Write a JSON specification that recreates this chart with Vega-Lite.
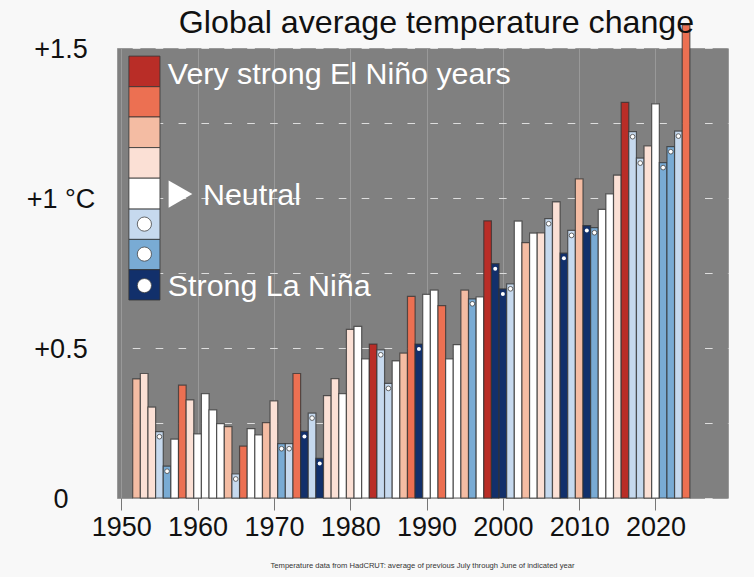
{"$schema":"https://vega.github.io/schema/vega-lite/v6.json","width":611,"height":450,"autosize":"none","padding":{"left":117,"top":48,"right":26,"bottom":79},"background":"#f8f8f8","view":{"fill":"#808080","stroke":"#999999"},"title":{"text":"Global average temperature change","font":"Liberation Sans","fontSize":32.2,"fontWeight":"normal","color":"#111111","anchor":"middle","frame":"group","dx":14,"dy":56,"offset":15,"baseline":"alphabetic"},"config":{"font":"Liberation Sans"},"datasets":{"years":[{"year":1952,"anomaly":0.397,"enso":"moderate El Niño"},{"year":1953,"anomaly":0.415,"enso":"weak El Niño"},{"year":1954,"anomaly":0.303,"enso":"weak El Niño"},{"year":1955,"anomaly":0.221,"enso":"weak La Niña"},{"year":1956,"anomaly":0.106,"enso":"moderate La Niña"},{"year":1957,"anomaly":0.196,"enso":"neutral"},{"year":1958,"anomaly":0.376,"enso":"strong El Niño"},{"year":1959,"anomaly":0.327,"enso":"weak El Niño"},{"year":1960,"anomaly":0.214,"enso":"neutral"},{"year":1961,"anomaly":0.348,"enso":"neutral"},{"year":1962,"anomaly":0.294,"enso":"neutral"},{"year":1963,"anomaly":0.248,"enso":"neutral"},{"year":1964,"anomaly":0.238,"enso":"moderate El Niño"},{"year":1965,"anomaly":0.08,"enso":"weak La Niña"},{"year":1966,"anomaly":0.173,"enso":"strong El Niño"},{"year":1967,"anomaly":0.231,"enso":"neutral"},{"year":1968,"anomaly":0.21,"enso":"neutral"},{"year":1969,"anomaly":0.251,"enso":"moderate El Niño"},{"year":1970,"anomaly":0.324,"enso":"weak El Niño"},{"year":1971,"anomaly":0.181,"enso":"moderate La Niña"},{"year":1972,"anomaly":0.181,"enso":"weak La Niña"},{"year":1973,"anomaly":0.415,"enso":"strong El Niño"},{"year":1974,"anomaly":0.222,"enso":"strong La Niña"},{"year":1975,"anomaly":0.283,"enso":"weak La Niña"},{"year":1976,"anomaly":0.132,"enso":"strong La Niña"},{"year":1977,"anomaly":0.341,"enso":"weak El Niño"},{"year":1978,"anomaly":0.398,"enso":"weak El Niño"},{"year":1979,"anomaly":0.348,"enso":"neutral"},{"year":1980,"anomaly":0.562,"enso":"weak El Niño"},{"year":1981,"anomaly":0.572,"enso":"neutral"},{"year":1982,"anomaly":0.464,"enso":"neutral"},{"year":1983,"anomaly":0.513,"enso":"very strong El Niño"},{"year":1984,"anomaly":0.494,"enso":"weak La Niña"},{"year":1985,"anomaly":0.382,"enso":"weak La Niña"},{"year":1986,"anomaly":0.457,"enso":"neutral"},{"year":1987,"anomaly":0.483,"enso":"moderate El Niño"},{"year":1988,"anomaly":0.672,"enso":"strong El Niño"},{"year":1989,"anomaly":0.513,"enso":"strong La Niña"},{"year":1990,"anomaly":0.679,"enso":"neutral"},{"year":1991,"anomaly":0.693,"enso":"neutral"},{"year":1992,"anomaly":0.641,"enso":"strong El Niño"},{"year":1993,"anomaly":0.464,"enso":"neutral"},{"year":1994,"anomaly":0.511,"enso":"neutral"},{"year":1995,"anomaly":0.693,"enso":"moderate El Niño"},{"year":1996,"anomaly":0.664,"enso":"moderate La Niña"},{"year":1997,"anomaly":0.67,"enso":"neutral"},{"year":1998,"anomaly":0.924,"enso":"very strong El Niño"},{"year":1999,"anomaly":0.781,"enso":"strong La Niña"},{"year":2000,"anomaly":0.697,"enso":"strong La Niña"},{"year":2001,"anomaly":0.714,"enso":"weak La Niña"},{"year":2002,"anomaly":0.923,"enso":"neutral"},{"year":2003,"anomaly":0.851,"enso":"moderate El Niño"},{"year":2004,"anomaly":0.883,"enso":"neutral"},{"year":2005,"anomaly":0.884,"enso":"weak El Niño"},{"year":2006,"anomaly":0.931,"enso":"weak La Niña"},{"year":2007,"anomaly":0.987,"enso":"weak El Niño"},{"year":2008,"anomaly":0.816,"enso":"strong La Niña"},{"year":2009,"anomaly":0.892,"enso":"weak La Niña"},{"year":2010,"anomaly":1.064,"enso":"moderate El Niño"},{"year":2011,"anomaly":0.908,"enso":"strong La Niña"},{"year":2012,"anomaly":0.901,"enso":"moderate La Niña"},{"year":2013,"anomaly":0.962,"enso":"neutral"},{"year":2014,"anomaly":1.014,"enso":"neutral"},{"year":2015,"anomaly":1.076,"enso":"weak El Niño"},{"year":2016,"anomaly":1.319,"enso":"very strong El Niño"},{"year":2017,"anomaly":1.221,"enso":"weak La Niña"},{"year":2018,"anomaly":1.133,"enso":"weak La Niña"},{"year":2019,"anomaly":1.174,"enso":"weak El Niño"},{"year":2020,"anomaly":1.314,"enso":"neutral"},{"year":2021,"anomaly":1.118,"enso":"moderate La Niña"},{"year":2022,"anomaly":1.171,"enso":"moderate La Niña"},{"year":2023,"anomaly":1.223,"enso":"weak La Niña"},{"year":2024,"anomaly":1.577,"enso":"strong El Niño"}],"key":[{"enso":"very strong El Niño","top":1.473,"bottom":1.371},{"enso":"strong El Niño","top":1.371,"bottom":1.27},{"enso":"moderate El Niño","top":1.27,"bottom":1.168},{"enso":"weak El Niño","top":1.168,"bottom":1.066},{"enso":"neutral","top":1.066,"bottom":0.963},{"enso":"weak La Niña","top":0.963,"bottom":0.862},{"enso":"moderate La Niña","top":0.862,"bottom":0.761},{"enso":"strong La Niña","top":0.761,"bottom":0.66}],"keyDots":[{"enso":"weak La Niña","level":0.913},{"enso":"moderate La Niña","level":0.813},{"enso":"strong La Niña","level":0.708}],"notes":[{"label":"Very strong El Niño years","year":1956.1,"level":1.38},{"label":"Neutral","year":1960.7,"level":0.977},{"label":"Strong La Niña","year":1956.1,"level":0.673}]},"layer":[{"data":{"name":"years"},"mark":{"type":"bar","size":7.63,"stroke":"#333333","strokeOpacity":0.75,"strokeWidth":1.2},"encoding":{"x":{"field":"year","type":"quantitative","scale":{"domain":[1949.44,2029.5],"nice":false,"zero":false,"padding":0},"axis":{"values":[1950,1960,1970,1980,1990,2000,2010,2020],"format":"d","grid":true,"gridColor":"#999999","gridWidth":1,"domain":false,"ticks":true,"tickColor":"#777777","tickSize":12,"labelFontSize":27,"labelColor":"#111111","labelPadding":4,"labelFlush":false,"labelOverlap":false,"title":"Temperature data from HadCRUT: average of previous July through June of indicated year","titleFontSize":7.6,"titleFontWeight":"normal","titleColor":"#333333","titleY":63,"titleX":305}},"y":{"field":"anomaly","type":"quantitative","scale":{"domain":[0,1.5],"nice":false},"axis":{"values":[0,0.25,0.5,0.75,1,1.25,1.5],"labelExpr":"datum.value==0?'0':datum.value==0.5?'+0.5':datum.value==1?'+1 °C':datum.value==1.5?'+1.5':''","grid":true,"gridColor":"#dddddd","gridWidth":1,"gridDash":[7.63,15.26],"gridDashOffset":7.63,"domain":false,"ticks":false,"labelAlign":"center","labelBaseline":"middle","labelFontSize":27,"labelColor":"#111111","labelPadding":56.5,"labelOverlap":false,"labelOffset":1,"title":null}},"color":{"field":"enso","type":"nominal","legend":null,"scale":{"domain":["very strong El Niño","strong El Niño","moderate El Niño","weak El Niño","neutral","weak La Niña","moderate La Niña","strong La Niña"],"range":["#b92d27","#ec7052","#f4bca3","#fbe0d5","#ffffff","#c6d9ee","#79abd4","#12306b"]}}}},{"data":{"name":"years"},"transform":[{"filter":"indexof(['weak La Niña','moderate La Niña'],datum.enso)>=0"}],"mark":{"type":"point","filled":true,"fill":"#ffffff","stroke":"#444444","strokeWidth":0.8,"size":22,"opacity":1,"yOffset":5},"encoding":{"x":{"field":"year","type":"quantitative"},"y":{"field":"anomaly","type":"quantitative"}}},{"data":{"name":"years"},"transform":[{"filter":"datum.enso=='strong La Niña'"}],"mark":{"type":"point","filled":true,"fill":"#ffffff","size":16,"opacity":1,"yOffset":5},"encoding":{"x":{"field":"year","type":"quantitative"},"y":{"field":"anomaly","type":"quantitative"}}},{"data":{"name":"key"},"mark":{"type":"rect","stroke":"#333333","strokeOpacity":0.8,"strokeWidth":1},"encoding":{"x":{"datum":1951},"x2":{"datum":1955.07},"y":{"field":"top","type":"quantitative"},"y2":{"field":"bottom"},"color":{"field":"enso","type":"nominal"}}},{"data":{"name":"keyDots"},"mark":{"type":"point","filled":true,"fill":"#ffffff","stroke":"#444444","strokeWidth":0.8,"size":201,"opacity":1},"encoding":{"x":{"datum":1953.03},"y":{"field":"level","type":"quantitative"}}},{"data":{"values":[{"year":1957.76,"level":1.013}]},"mark":{"type":"point","shape":"triangle-right","filled":true,"fill":"#ffffff","size":750,"opacity":1},"encoding":{"x":{"field":"year","type":"quantitative"},"y":{"field":"level","type":"quantitative"}}},{"data":{"name":"notes"},"mark":{"type":"text","align":"left","baseline":"alphabetic","color":"#ffffff","fontSize":30.4},"encoding":{"x":{"field":"year","type":"quantitative"},"y":{"field":"level","type":"quantitative"},"text":{"field":"label"}}}]}
